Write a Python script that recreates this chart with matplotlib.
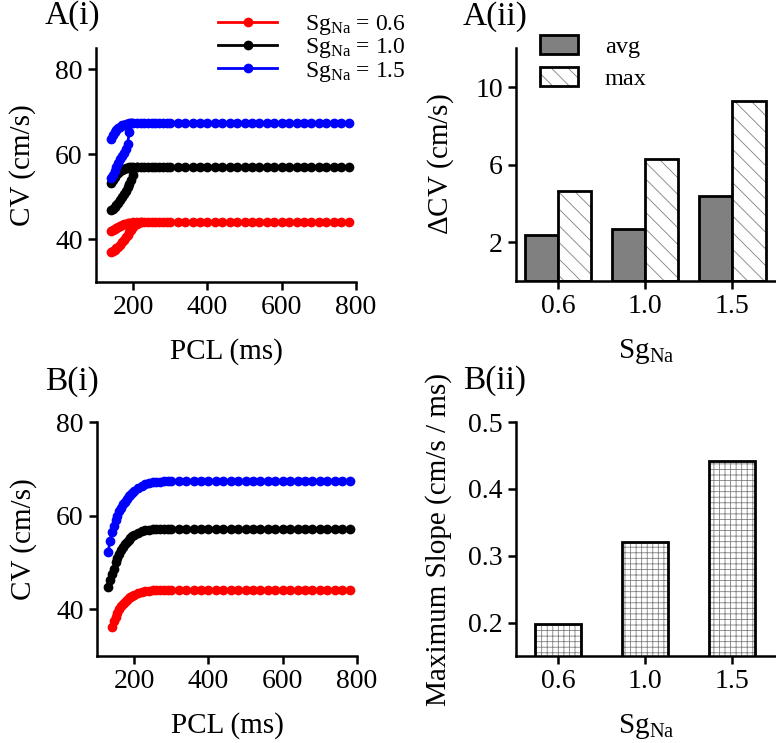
import numpy as np
import matplotlib
matplotlib.use("Agg")
from matplotlib import pyplot as plt
from matplotlib import colors as mcolors

plt.rcParams['font.family'] = ['Liberation Serif', 'DejaVu Serif']
plt.rcParams['mathtext.fontset'] = 'custom'
plt.rcParams['mathtext.rm'] = 'Liberation Serif'
plt.rcParams['mathtext.it'] = 'Liberation Serif:italic'
plt.rcParams['hatch.linewidth'] = 0.6

# ---- data: A(i) restitution with alternans (upper and lower branches) ----
pcl_a = [140, 145, 150, 155, 160, 165, 170, 175, 180, 185, 190, 195, 200,
         210, 220, 230, 240, 250, 260, 270, 280, 290,
         300, 320, 340, 360, 380, 400, 420, 440, 460, 480, 500, 520, 540,
         560, 580, 600, 620, 640, 660, 680, 700, 720, 740, 760, 780]
cv_a_06 = [41.9, 42.1, 42.4, 42.7, 43.0, 43.2, 43.4, 43.6, 43.7, 43.8, 43.9, 43.95, 44.0,
           44.0, 44.05, 44.1, 44.1, 44.1, 44.1, 44.1, 44.1, 44.1,
           44.1, 44.1, 44.1, 44.1, 44.1, 44.1, 44.1, 44.1, 44.1, 44.1, 44.1, 44.1, 44.1,
           44.1, 44.1, 44.1, 44.1, 44.1, 44.1, 44.1, 44.1, 44.1, 44.1, 44.1, 44.1]
cv_a_10 = [53.2, 54.0, 54.7, 55.3, 55.7, 56.0, 56.3, 56.5, 56.7, 56.8, 56.9, 57.0, 57.0,
           57.0, 57.05, 57.1, 57.1, 57.1, 57.1, 57.1, 57.1, 57.1,
           57.1, 57.1, 57.1, 57.1, 57.1, 57.1, 57.1, 57.1, 57.1, 57.1, 57.1, 57.1, 57.1,
           57.1, 57.1, 57.1, 57.1, 57.1, 57.1, 57.1, 57.1, 57.1, 57.1, 57.1, 57.1]
cv_a_15 = [63.7, 64.6, 65.3, 65.8, 66.2, 66.5, 66.8, 67.0, 67.1, 67.2, 67.25, 67.3, 67.3,
           67.3, 67.3, 67.3, 67.3, 67.3, 67.3, 67.3, 67.3, 67.3,
           67.3, 67.3, 67.3, 67.3, 67.3, 67.3, 67.3, 67.3, 67.3, 67.3, 67.3, 67.3, 67.3,
           67.3, 67.3, 67.3, 67.3, 67.3, 67.3, 67.3, 67.3, 67.3, 67.3, 67.3, 67.3]

pcl_lo_06 = [220, 210, 200, 195, 190, 185, 180, 175, 170, 165, 160, 155, 150, 145, 140]
cv_lo_06 = [44.05, 43.6, 42.8, 42.3, 41.7, 41.1, 40.5, 39.9, 39.3, 38.8, 38.3, 37.9, 37.5, 37.2, 37.0]
pcl_lo_10 = [210, 200, 195, 190, 185, 180, 175, 170, 165, 160, 155, 150, 145, 140]
cv_lo_10 = [57.0, 55.1, 54.0, 53.0, 52.2, 51.4, 50.7, 50.0, 49.3, 48.6, 48.0, 47.6, 47.2, 46.9]
pcl_lo_15 = [195, 190, 185, 180, 175, 170, 165, 160, 155, 150, 145, 140]
cv_lo_15 = [67.3, 65.3, 62.4, 61.2, 60.4, 59.6, 58.8, 57.9, 57.0, 56.1, 55.2, 54.5]

# ---- data: B(i) restitution ----
pcl_b = [130, 135, 140, 145, 150, 155, 160, 165, 170, 175, 180, 185, 190, 195, 200,
         210, 220, 230, 240, 250, 260, 270, 280, 290,
         300, 320, 340, 360, 380, 400, 420, 440, 460, 480, 500, 520, 540,
         560, 580, 600, 620, 640, 660, 680, 700, 720, 740, 760, 780]
cv_b_06 = [36.2, 37.4, 38.4, 39.3, 40.0, 40.6, 41.1, 41.6, 42.0, 42.3, 42.6, 42.8, 43.0,
           43.4, 43.7, 43.9, 44.0, 44.05, 44.1, 44.1, 44.1, 44.1,
           44.1, 44.1, 44.1, 44.1, 44.1, 44.1, 44.1, 44.1, 44.1, 44.1, 44.1, 44.1, 44.1,
           44.1, 44.1, 44.1, 44.1, 44.1, 44.1, 44.1, 44.1, 44.1, 44.1, 44.1, 44.1]
cv_b_10 = [44.8, 46.3, 47.5, 48.7, 50.0, 51.0, 51.8, 52.6, 53.3, 53.9, 54.4, 54.9, 55.3, 55.6, 55.9,
           56.3, 56.7, 56.9, 57.0, 57.05, 57.1, 57.1, 57.1, 57.1,
           57.1, 57.1, 57.1, 57.1, 57.1, 57.1, 57.1, 57.1, 57.1, 57.1, 57.1, 57.1, 57.1,
           57.1, 57.1, 57.1, 57.1, 57.1, 57.1, 57.1, 57.1, 57.1, 57.1, 57.1, 57.1]
cv_b_15 = [52.2, 54.6, 56.4, 57.8, 59.0, 60.0, 60.9, 61.7, 62.4, 63.0, 63.6, 64.1, 64.5, 64.9, 65.3,
           65.9, 66.4, 66.8, 67.0, 67.1, 67.2, 67.2, 67.3, 67.3,
           67.3, 67.3, 67.3, 67.3, 67.3, 67.3, 67.3, 67.3, 67.3, 67.3, 67.3, 67.3, 67.3,
           67.3, 67.3, 67.3, 67.3, 67.3, 67.3, 67.3, 67.3, 67.3, 67.3, 67.3, 67.3]

# ---- bar data ----
sg_labels = ['0.6', '1.0', '1.5']
dcv_avg = [2.35, 2.65, 4.4]
dcv_max = [4.65, 6.27, 9.3]
max_slope = [0.198, 0.321, 0.442]

sg_txt = r'Sg$_{\mathrm{Na}}$'
colors = ['#ff0000', '#000000', '#0000ff']
FS = 20     # tick labels
LFS = 21    # axis labels
MS = 6


def style_axes(ax):
    ax.spines['top'].set_visible(False)
    ax.spines['right'].set_visible(False)
    ax.spines['left'].set_linewidth(1.8)
    ax.spines['bottom'].set_linewidth(1.8)
    ax.tick_params(width=1.8, length=6, labelsize=FS)


fig = plt.figure(figsize=(7.76, 7.43), dpi=100)

# A(i)
ax1 = fig.add_axes([0.1237, 0.6205, 0.335, 0.315])
handles = []
for cv, lo_p, lo_c, c in [(cv_a_06, pcl_lo_06, cv_lo_06, colors[0]),
                          (cv_a_10, pcl_lo_10, cv_lo_10, colors[1]),
                          (cv_a_15, pcl_lo_15, cv_lo_15, colors[2])]:
    h, = ax1.plot(pcl_a, cv, '-o', color=c, ms=MS, lw=2)
    ax1.plot(lo_p, lo_c, '-o', color=c, ms=MS, lw=2)
    handles.append(h)
ax1.set_xlim(100, 800)
ax1.set_ylim(30, 85)
ax1.set_xticks([200, 400, 600, 800])
ax1.set_yticks([40, 60, 80])
ax1.set_xlabel('PCL (ms)', fontsize=LFS, labelpad=13)
ax1.set_ylabel('CV (cm/s)', fontsize=LFS, labelpad=14)
style_axes(ax1)
fig.legend(handles, [sg_txt + ' = 0.6', sg_txt + ' = 1.0', sg_txt + ' = 1.5'],
           loc='upper left', bbox_to_anchor=(218 / 776, 1 - 13 / 743),
           frameon=False, fontsize=17, handlelength=2.5, handletextpad=1.2,
           labelspacing=-0.03, borderpad=0, borderaxespad=0)

# B(i)
ax3 = fig.add_axes([0.125, 0.117, 0.335, 0.315])
ax3.plot(pcl_b[2:], cv_b_06, '-o', color=colors[0], ms=MS, lw=2)
ax3.plot(pcl_b, cv_b_10, '-o', color=colors[1], ms=MS, lw=2)
ax3.plot(pcl_b, cv_b_15, '-o', color=colors[2], ms=MS, lw=2)
ax3.set_xlim(100, 800)
ax3.set_ylim(30, 80)
ax3.set_xticks([200, 400, 600, 800])
ax3.set_yticks([40, 60, 80])
ax3.set_xlabel('PCL (ms)', fontsize=LFS, labelpad=13)
ax3.set_ylabel('CV (cm/s)', fontsize=LFS, labelpad=14)
style_axes(ax3)

# A(ii)
hatch_gray = mcolors.to_rgba('0.5')
x = np.arange(len(sg_labels))
ax2 = fig.add_axes([0.665, 0.622, 0.335, 0.313])
w = 0.38
ax2.bar(x - w / 2, dcv_avg, w, color='#808080', edgecolor='black', linewidth=2, label='avg')
b2 = ax2.bar(x + w / 2, dcv_max, w, color='white', edgecolor='black', linewidth=2,
             hatch='\\\\', label='max')
for p in b2:
    p._hatch_color = hatch_gray
ax2.set_xlim(-0.48, 2.5)
ax2.set_ylim(0, 12)
ax2.set_yticks([2, 6, 10])
ax2.set_xticks(x)
ax2.set_xticklabels(sg_labels)
ax2.set_xlabel(sg_txt, fontsize=LFS, labelpad=13)
ax2.set_ylabel(r'$\Delta$CV (cm/s)', fontsize=LFS, labelpad=14)
style_axes(ax2)
fig.legend(loc='upper left', bbox_to_anchor=(540 / 776, 1 - 35 / 743),
           frameon=False, fontsize=17.5, handlelength=1.56, handleheight=0.82,
           handletextpad=1.1, labelspacing=0.37, borderpad=0, borderaxespad=0)

# B(ii)
ax4 = fig.add_axes([0.665, 0.117, 0.335, 0.315])
b3 = ax4.bar(x, max_slope, 0.53, color='white', edgecolor='black', linewidth=2, hatch='+++')
for p in b3:
    p._hatch_color = hatch_gray
ax4.set_xlim(-0.48, 2.5)
ax4.set_ylim(0.15, 0.5)
ax4.set_yticks([0.2, 0.3, 0.4, 0.5])
ax4.set_xticks(x)
ax4.set_xticklabels(sg_labels)
ax4.set_xlabel(sg_txt, fontsize=LFS, labelpad=13)
ax4.set_ylabel('Maximum Slope (cm/s / ms)', fontsize=LFS, labelpad=12)
style_axes(ax4)

# panel labels
fig.text(45 / 776, 1 - 16 / 743, 'A(i)', fontsize=24, va='center', ha='left')
fig.text(463 / 776, 1 - 17 / 743, 'A(ii)', fontsize=24, va='center', ha='left')
fig.text(45 / 776, 1 - 382 / 743, 'B(i)', fontsize=24, va='center', ha='left')
fig.text(463 / 776, 1 - 381 / 743, 'B(ii)', fontsize=24, va='center', ha='left')

fig.savefig('out.png', dpi=100)
